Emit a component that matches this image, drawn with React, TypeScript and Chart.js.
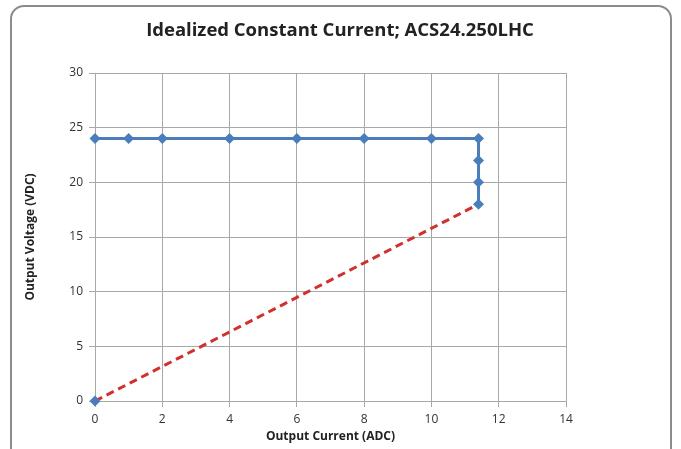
import React, { useEffect, useRef } from "react";
import Chart from "chart.js/auto";

const CURRENT_ADC = [0, 1, 2, 4, 6, 8, 10, 11.4, 11.4, 11.4, 11.4];
const VOLTAGE_VDC = [24, 24, 24, 24, 24, 24, 24, 24, 22, 20, 18];
const LOAD_LINE_ADC = [0, 11.4];
const LOAD_LINE_VDC = [0, 18];
const X_RANGE = [0, 14, 2];
const Y_RANGE = [0, 30, 5];
const TITLE = "Idealized Constant Current; ACS24.250LHC";
const X_TITLE = "Output Current (ADC)";
const Y_TITLE = "Output Voltage (VDC)";

const FONT = '"Open Sans", "Liberation Sans", sans-serif';
const BLUE = "#4a7ebb";
const RED = "#d0312d";
const GRID = "#a8a8a8";

export default function App() {
  const ref = useRef<HTMLCanvasElement | null>(null);

  useEffect(() => {
    if (!ref.current) return;
    const titlePlugin = {
      id: "centerTitle",
      afterDraw(chart: any) {
        const ctx = chart.ctx;
        ctx.save();
        ctx.font = `bold 18.5px ${FONT}`;
        ctx.fillStyle = "#222";
        ctx.textAlign = "center";
        ctx.textBaseline = "middle";
        ctx.fillText(TITLE, 340, 31);
        ctx.restore();
      },
    };
    const chart = new Chart(ref.current, {
      type: "scatter",
      data: {
        datasets: [
          {
            label: "Constant current",
            data: CURRENT_ADC.map((x, i) => ({ x, y: VOLTAGE_VDC[i] })),
            showLine: true,
            clip: false,
            borderColor: BLUE,
            backgroundColor: BLUE,
            borderWidth: 3,
            pointStyle: "rectRot",
            pointRadius: 5.5,
            pointBorderWidth: 0,
            pointBackgroundColor: BLUE,
          },
          {
            label: "Load line",
            data: LOAD_LINE_ADC.map((x, i) => ({ x, y: LOAD_LINE_VDC[i] })),
            showLine: true,
            clip: false,
            borderColor: RED,
            borderWidth: 3,
            borderDash: [8, 5],
            pointStyle: "rectRot",
            pointRadius: [5.5, 0],
            pointBorderWidth: 0,
            pointBackgroundColor: BLUE,
          },
        ],
      },
      options: {
        responsive: false,
        animation: false,
        layout: { padding: { top: 73, right: 115, left: 0, bottom: 0 } },
        plugins: {
          legend: { display: false },
          title: { display: false },
          tooltip: { enabled: false },
        },
        scales: {
          x: {
            type: "linear",
            min: X_RANGE[0],
            max: X_RANGE[1],
            afterFit: (s: any) => {
              s.height = 48;
            },
            ticks: {
              stepSize: X_RANGE[2],
              color: "#333",
              font: { family: FONT, size: 12 },
              padding: 5,
            },
            grid: { color: GRID, tickLength: 6, tickColor: GRID },
            border: { color: GRID },
            title: {
              display: true,
              text: X_TITLE,
              color: "#222",
              font: { family: FONT, size: 12, weight: "bold" },
              padding: { top: 0, bottom: 5 },
            },
          },
          y: {
            type: "linear",
            min: Y_RANGE[0],
            max: Y_RANGE[1],
            afterFit: (s: any) => {
              s.width = 95;
            },
            ticks: {
              stepSize: Y_RANGE[2],
              color: "#333",
              font: { family: FONT, size: 12 },
              padding: 6,
            },
            grid: { color: GRID, tickLength: 6, tickColor: GRID },
            border: { color: GRID },
            title: {
              display: true,
              text: Y_TITLE,
              color: "#222",
              font: { family: FONT, size: 12, weight: "bold" },
              padding: { top: 23, bottom: 0 },
            },
          },
        },
      },
      plugins: [titlePlugin],
    } as any);
    return () => chart.destroy();
  }, []);

  return (
    <div
      style={{
        position: "fixed",
        left: 0,
        top: 0,
        width: 681,
        height: 449,
        background: "#fff",
        overflow: "hidden",
      }}
    >
      <div
        style={{
          position: "absolute",
          left: 10,
          top: 5,
          width: 662,
          height: 480,
          boxSizing: "border-box",
          border: "2px solid #8c8c8c",
          borderRadius: 14,
        }}
      />
      <canvas
        ref={ref}
        width={681}
        height={449}
        style={{ position: "absolute", left: 0, top: 0, width: 681, height: 449 }}
      />
    </div>
  );
}
